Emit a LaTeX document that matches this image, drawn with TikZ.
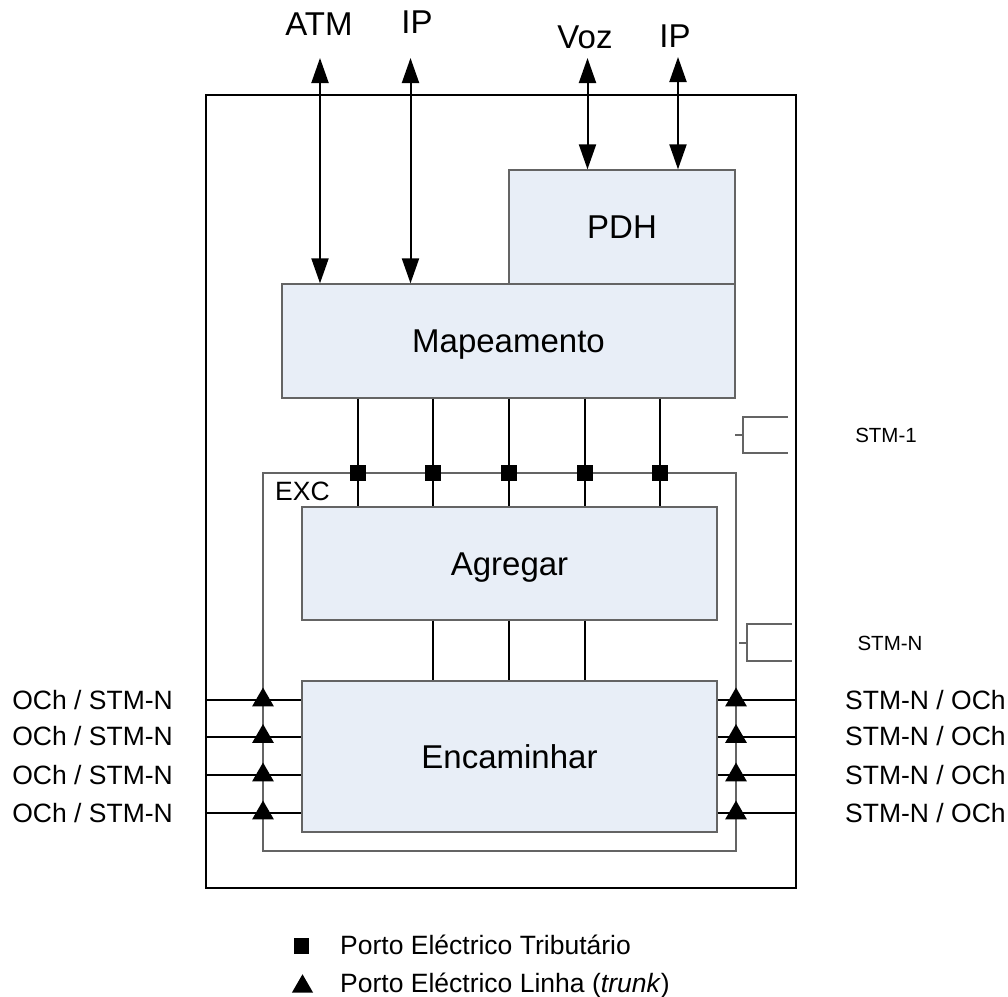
\documentclass[tikz,border=0pt]{standalone}
\usepackage{fontspec}
\setmainfont{Liberation Sans}
\usetikzlibrary{arrows.meta,shapes.geometric}
\definecolor{boxfill}{RGB}{232,238,247}
\definecolor{boxline}{RGB}{100,100,100}
\newcommand\bigfnt{\fontsize{33}{39}\selectfont}
\newcommand\sidefnt{\fontsize{26.5}{31}\selectfont}
\newcommand\legfnt{\fontsize{26.5}{31}\selectfont}
\newcommand\excfnt{\fontsize{26.5}{31}\selectfont}
\newcommand\smlfnt{\fontsize{20.5}{24}\selectfont}
\tikzset{
  blk/.style={draw=boxline, line width=1.3pt, fill=boxfill, inner sep=0pt, font=\bigfnt, text height=23.5pt, text depth=0pt},
  thinln/.style={draw=boxline, line width=1.2pt},
  conn/.style={line width=2pt},
  arr/.style={line width=2pt, {Triangle[length=25pt,width=17pt]}-{Triangle[length=25pt,width=17pt]}},
  sqport/.style={fill=black, minimum size=16pt, inner sep=0pt},
  triport/.style={regular polygon, regular polygon sides=3, fill=black, inner sep=0pt, minimum size=25pt},
  toplbl/.style={font=\bigfnt, anchor=base, inner sep=0pt},
  sidelbl/.style={font=\sidefnt, inner sep=0pt},
  smllbl/.style={font=\smlfnt, anchor=base, inner sep=0pt},
  leglbl/.style={font=\legfnt, anchor=base west, inner sep=0pt}
}
\begin{document}
\begin{tikzpicture}[x=1pt,y=-1pt]
\useasboundingbox (0,0) rectangle (1008,996);
% EXC frame
\node[thinln, minimum width=473pt, minimum height=378pt, inner sep=0pt] (exc) at (499.5,662) {};
\node[font=\excfnt, anchor=base west, inner sep=0pt] (exclbl) at (275,500) {EXC};
% blocks
\node[blk, minimum width=226pt, minimum height=114pt] (pdh) at (622,227) {PDH};
\node[blk, minimum width=453pt, minimum height=114pt] (map) at (508.5,341) {Mapeamento};
\node[blk, minimum width=415pt, minimum height=113pt] (agr) at (509.5,563.5) {Agregar};
\node[blk, minimum width=415pt, minimum height=151pt] (enc) at (509.5,756.5) {Encaminhar};
% outer frame
\node[draw, line width=2.2pt, minimum width=590pt, minimum height=793pt, inner sep=0pt] (outer) at (501,491.5) {};
% top arrows
\coordinate (atm) at (320,58);
\coordinate (ipa) at (410.5,58);
\coordinate (voz) at (587.5,58);
\coordinate (ipb) at (678,57);
\draw[arr] (atm) -- (atm |- map.north);
\draw[arr] (ipa) -- (ipa |- map.north);
\draw[arr] (voz) -- (voz |- pdh.north);
\draw[arr] (ipb) -- (ipb |- pdh.north);
\node[toplbl] (latm) at (319,35) {ATM};
\node[toplbl] (lipa) at (417,33.5) {IP};
\node[toplbl] (lvoz) at (585,48) {Voz};
\node[toplbl] (lipb) at (675,47) {IP};
% tributary ports
\foreach \i/\x in {1/357.5,2/433,3/509,4/585,5/660}{
  \node[sqport] (s\i) at (\x,473) {};
  \draw[conn] (map.south -| s\i) -- (agr.north -| s\i);
  \node[sqport] at (s\i) {};
}
\foreach \i in {2,3,4}{
  \draw[conn] (agr.south -| s\i) -- (enc.north -| s\i);
}
% line ports
\foreach \i/\y in {1/700,2/736.5,3/775,4/813}{
  \coordinate (cl\i) at (263,\y);
  \coordinate (cr\i) at (736,\y);
  \draw[conn] (outer.west |- cl\i) -- (enc.west |- cl\i);
  \draw[conn] (enc.east |- cr\i) -- (outer.east |- cr\i);
  \node[triport] (tl\i) at (cl\i) {};
  \node[triport] (tr\i) at (cr\i) {};
  \node[sidelbl, anchor=base east] (ll\i) at (173,{\y+9}) {OCh / STM-N};
  \node[sidelbl, anchor=base west] (lr\i) at (845,{\y+9}) {STM-N / OCh};
}
% brackets
\draw[thinln] (788,417) -- (743,417) -- (743,453) -- (788,453) (735,435) -- (743,435);
\draw[thinln] (792,624) -- (747,624) -- (747,661) -- (792,661) (739,643) -- (747,643);
\node[smllbl] (stm1) at (886,442) {STM-1};
\node[smllbl] (stmn) at (890,650) {STM-N};
% legend
\node[sqport, minimum width=15pt, minimum height=16pt] (lsq) at (301,945.5) {};
\node[leglbl] (leg1) at (340,954) {Porto Eléctrico Tributário};
\node[triport, minimum size=24.5pt] (ltri) at (302.5,986.5) {};
\node[leglbl] (leg2) at (340,992) {Porto Eléctrico Linha (\textit{trunk})};
\end{tikzpicture}
\end{document}
